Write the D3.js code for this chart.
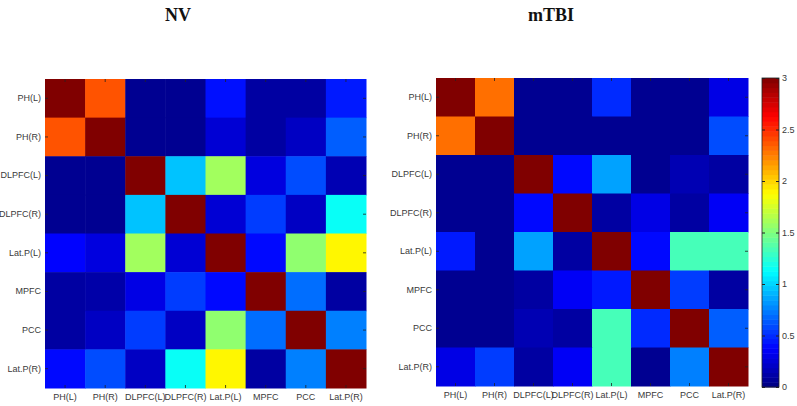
<!DOCTYPE html>
<html>
<head>
<meta charset="utf-8">
<script src="https://cdn.jsdelivr.net/npm/d3@7"></script>
<style>
  html, body { margin: 0; padding: 0; background: #fff; }
  svg { display: block; }
</style>
</head>
<body>
<svg id="chart" width="797" height="406"></svg>
<script>
const regions = ["PH(L)", "PH(R)", "DLPFC(L)", "DLPFC(R)", "Lat.P(L)", "MPFC", "PCC", "Lat.P(R)"];
const titles = ["NV", "mTBI"];
const colorbarTicks = [0, 0.5, 1, 1.5, 2, 2.5, 3];

const nvValues = [
  [3.00, 2.38, 0.05, 0.05, 0.42, 0.10, 0.10, 0.45],
  [2.38, 3.00, 0.05, 0.05, 0.25, 0.10, 0.20, 0.65],
  [0.05, 0.05, 3.00, 0.95, 1.60, 0.28, 0.60, 0.15],
  [0.05, 0.05, 0.95, 3.00, 0.25, 0.55, 0.20, 1.15],
  [0.38, 0.28, 1.60, 0.25, 3.00, 0.40, 1.55, 1.90],
  [0.10, 0.12, 0.30, 0.55, 0.40, 3.00, 0.70, 0.10],
  [0.10, 0.20, 0.55, 0.20, 1.55, 0.70, 3.00, 0.75],
  [0.40, 0.60, 0.20, 1.15, 1.90, 0.10, 0.75, 3.00]
];

const mtbiValues = [
  [3.00, 2.30, 0.05, 0.05, 0.50, 0.05, 0.05, 0.30],
  [2.30, 3.00, 0.05, 0.05, 0.05, 0.05, 0.05, 0.60],
  [0.05, 0.05, 3.00, 0.40, 0.85, 0.05, 0.15, 0.10],
  [0.05, 0.05, 0.40, 3.00, 0.10, 0.30, 0.10, 0.35],
  [0.45, 0.05, 0.85, 0.10, 3.00, 0.40, 1.33, 1.33],
  [0.05, 0.05, 0.10, 0.35, 0.45, 3.00, 0.55, 0.10],
  [0.05, 0.05, 0.15, 0.10, 1.33, 0.50, 3.00, 0.65],
  [0.30, 0.55, 0.10, 0.35, 1.33, 0.05, 0.75, 3.00]
];

// MATLAB jet colormap
function jet(t) {
  t = Math.max(0, Math.min(1, t));
  const f = (x) => Math.max(0, Math.min(1, x));
  const r = f(Math.min(4 * t - 1.5, -4 * t + 4.5));
  const g = f(Math.min(4 * t - 0.5, -4 * t + 3.5));
  const b = f(Math.min(4 * t + 0.5, -4 * t + 2.5));
  return d3.rgb(r * 255, g * 255, b * 255).toString();
}
const color = d3.scaleSequential(jet).domain([0, 3]);

const svg = d3.select("#chart");
const labelFont = "'Liberation Sans', Arial, sans-serif";

function heatmap(values, x0, x1, y0, y1, title, titleX) {
  const x = d3.scaleBand().domain(regions).range([x0, x1]);
  const y = d3.scaleBand().domain(regions).range([y0, y1]);
  const g = svg.append("g");
  const cells = [];
  values.forEach((row, i) => row.forEach((v, j) => cells.push({ r: regions[i], c: regions[j], v })));
  g.selectAll("rect.cell").data(cells).enter().append("rect")
    .attr("class", "cell")
    .attr("x", d => x(d.c))
    .attr("y", d => y(d.r))
    .attr("width", x.bandwidth() + 0.5)
    .attr("height", y.bandwidth() + 0.5)
    .attr("fill", d => color(d.v));

  const styleAxis = (sel, showText) => {
    sel.select(".domain").remove();
    sel.selectAll(".tick line").attr("stroke", "#222").attr("stroke-width", 0.8);
    sel.selectAll(".tick text")
      .attr("fill", "#3a3a3a")
      .style("font-family", labelFont)
      .style("font-size", "9px");
    if (!showText) sel.selectAll(".tick text").remove();
  };

  g.append("g").attr("transform", `translate(${x0},0)`)
    .call(d3.axisLeft(y).tickSize(-3).tickPadding(4))
    .call(s => styleAxis(s, true));
  g.append("g").attr("transform", `translate(0,${y1})`)
    .call(d3.axisBottom(x).tickSize(-3).tickPadding(6))
    .call(s => styleAxis(s, true));
  g.append("g").attr("transform", `translate(${x1},0)`)
    .call(d3.axisRight(y).tickSize(-3))
    .call(s => styleAxis(s, false));
  g.append("g").attr("transform", `translate(0,${y0})`)
    .call(d3.axisTop(x).tickSize(-3))
    .call(s => styleAxis(s, false));

  svg.append("text")
    .attr("x", titleX).attr("y", 21)
    .attr("text-anchor", "middle")
    .style("font-family", "'Liberation Serif', 'Times New Roman', serif")
    .style("font-weight", "bold")
    .style("font-size", "18px")
    .attr("fill", "#111")
    .text(title);
}

heatmap(nvValues, 45, 366, 79, 388, titles[0], 178);
heatmap(mtbiValues, 436, 748, 78, 386, titles[1], 551);

// Colorbar
const cbX = 762, cbW = 17, cbTop = 78, cbBot = 387;
const cbScale = d3.scaleLinear().domain([0, 3]).range([cbBot, cbTop]);
const levels = d3.range(64);
const step = 3 / 64;
const cb = svg.append("g");
cb.selectAll("rect").data(levels).enter().append("rect")
  .attr("x", cbX)
  .attr("y", d => cbScale((d + 1) * step))
  .attr("width", cbW)
  .attr("height", d => cbScale(d * step) - cbScale((d + 1) * step) + 0.5)
  .attr("fill", d => color((d + 0.5) * step));
cb.append("rect")
  .attr("x", cbX).attr("y", cbTop).attr("width", cbW).attr("height", cbBot - cbTop)
  .attr("fill", "none").attr("stroke", "#222").attr("stroke-width", 0.8);
const cbAxis = cb.append("g").attr("transform", `translate(${cbX + cbW},0)`)
  .call(d3.axisRight(cbScale).tickValues(colorbarTicks).tickFormat(d3.format("")).tickSize(-3).tickPadding(3));
cbAxis.select(".domain").remove();
cbAxis.selectAll(".tick line").attr("stroke", "#222");
cbAxis.selectAll(".tick text").attr("fill", "#3a3a3a")
  .style("font-family", labelFont).style("font-size", "9px");
cb.append("g").attr("transform", `translate(${cbX},0)`)
  .call(d3.axisLeft(cbScale).tickValues(colorbarTicks).tickSize(-3).tickFormat(""))
  .call(s => { s.select(".domain").remove(); s.selectAll(".tick line").attr("stroke", "#222"); });
</script>
</body>
</html>
